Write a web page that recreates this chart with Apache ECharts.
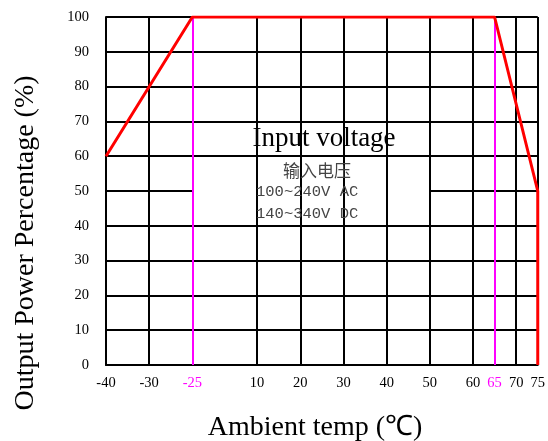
<!DOCTYPE html>
<html><head><meta charset="utf-8">
<script src="https://cdn.jsdelivr.net/npm/echarts@6/dist/echarts.min.js"></script>
<style>html,body{margin:0;padding:0;background:#fff}#c{width:548px;height:441px}</style>
</head><body><div id="c"></div>
<script>
// ---- data ----
const tickTemps = [-40, -30, -25, 10, 20, 30, 40, 50, 60, 65, 70, 75];
const tickLabels = ['-40', '-30', '-25', '10', '20', '30', '40', '50', '60', '65', '70', '75'];
const highlightTemps = [-25, 65];
const curveTemps = [-40, -25, 65, 75, 75];
const curvePower = [60, 100, 100, 50, 0];
const boxTemps = [-25, 50];
const boxPower = [40, 60];
const noteTitle = 'Input voltage';
const noteLines = ['输入电压', '100~240V AC', '140~340V DC'];
const xTitle = 'Ambient temp (℃)';
const yTitle = 'Output Power Percentage (%)';

// ---- axis scale (the original axis is non-uniform: slot index per tick) ----
const tickSlots = [0, 1, 2, 3.5, 4.5, 5.5, 6.5, 7.5, 8.5, 9, 9.5, 10];
function toSlot(t) {
  for (let i = 0; i < tickTemps.length - 1; i++) {
    const a = tickTemps[i], b = tickTemps[i + 1];
    if (t >= a && t <= b) return tickSlots[i] + (t - a) / (b - a) * (tickSlots[i + 1] - tickSlots[i]);
  }
  return t < tickTemps[0] ? tickSlots[0] : tickSlots[tickSlots.length - 1];
}

const SERIF = "'Liberation Serif','Times New Roman',serif";
const chart = echarts.init(document.getElementById('c'), null, { renderer: 'canvas' });
const mlBase = { silent: true, symbol: ['none', 'none'], label: { show: false }, emphasis: { disabled: true } };

chart.setOption({
  animation: false,
  backgroundColor: '#fff',
  grid: { left: 106, right: 9, top: 17, bottom: 76, containLabel: false },
  xAxis: {
    type: 'value', min: 0, max: 10, interval: 0.5,
    axisLine: { show: true, lineStyle: { color: '#000', width: 2 } },
    axisTick: { show: false },
    splitLine: { show: false },
    axisLabel: {
      margin: 11, color: '#000', fontFamily: SERIF, fontSize: 14.5,
      formatter: function (v) {
        const i = tickSlots.findIndex(s => Math.abs(s - v) < 1e-6);
        if (i < 0) return '';
        return highlightTemps.indexOf(tickTemps[i]) >= 0 ? '{m|' + tickLabels[i] + '}' : tickLabels[i];
      },
      rich: { m: { color: '#ff00ff', fontFamily: SERIF, fontSize: 14.5 } }
    }
  },
  yAxis: {
    type: 'value', min: 0, max: 100, interval: 10,
    axisLine: { show: true, lineStyle: { color: '#000', width: 2 } },
    axisTick: { show: false },
    splitLine: { show: true, lineStyle: { color: '#000', width: 2 } },
    axisLabel: { margin: 17, color: '#000', fontFamily: SERIF, fontSize: 14.5 }
  },
  series: [
    { name: 'gridV', type: 'line', data: [], z: 1,
      markLine: Object.assign({}, mlBase, { lineStyle: { color: '#000', width: 2, type: 'solid' },
        data: tickTemps.map(t => ({ xAxis: toSlot(t) })) }) },
    { name: 'box', type: 'line', data: [], z: 2,
      markArea: { silent: true, itemStyle: { color: '#fff' }, emphasis: { disabled: true },
        data: [[{ xAxis: toSlot(boxTemps[0]), yAxis: boxPower[0] }, { xAxis: toSlot(boxTemps[1]), yAxis: boxPower[1] }]] } },
    { name: 'boxEdges', type: 'line', data: [], z: 3,
      markLine: Object.assign({}, mlBase, { lineStyle: { color: '#000', width: 2, type: 'solid' },
        data: [{ yAxis: boxPower[0] }, { yAxis: boxPower[1] }, { xAxis: toSlot(boxTemps[1]) }] }) },
    { name: 'limits', type: 'line', data: [], z: 4,
      markLine: Object.assign({}, mlBase, { lineStyle: { color: '#ff00ff', width: 2, type: 'solid' },
        data: highlightTemps.map(t => ({ xAxis: toSlot(t) })) }) },
    { name: 'derating', type: 'line', z: 5, showSymbol: false, symbol: 'none',
      lineStyle: { color: '#ff0000', width: 3 }, itemStyle: { color: '#ff0000' },
      data: curveTemps.map((t, i) => [toSlot(t), curvePower[i]]) }
  ],
  graphic: [
    { type: 'text', x: 324, y: 139, z: 10, style: { text: noteTitle, font: '27px ' + SERIF, fill: '#000', textAlign: 'center', textVerticalAlign: 'middle' } },
    { type: 'text', x: 317, y: 171, z: 10, style: { text: noteLines[0], font: "17px 'Noto Sans CJK SC'", fill: '#444', textAlign: 'center', textVerticalAlign: 'middle' } },
    { type: 'text', x: 256, y: 192, z: 10, style: { text: noteLines[1], font: "15.5px 'Liberation Mono',monospace", fill: '#444', textAlign: 'left', textVerticalAlign: 'middle' } },
    { type: 'text', x: 256, y: 214, z: 10, style: { text: noteLines[2], font: "15.5px 'Liberation Mono',monospace", fill: '#444', textAlign: 'left', textVerticalAlign: 'middle' } },
    { type: 'text', x: 315, y: 428, style: { text: xTitle, font: '28px ' + SERIF, fill: '#000', textAlign: 'center', textVerticalAlign: 'middle' } },
    { type: 'text', x: 26, y: 243, rotation: Math.PI / 2, style: { text: yTitle, font: '28px ' + SERIF, fill: '#000', textAlign: 'center', textVerticalAlign: 'middle' } }
  ]
});
</script>
</body></html>
